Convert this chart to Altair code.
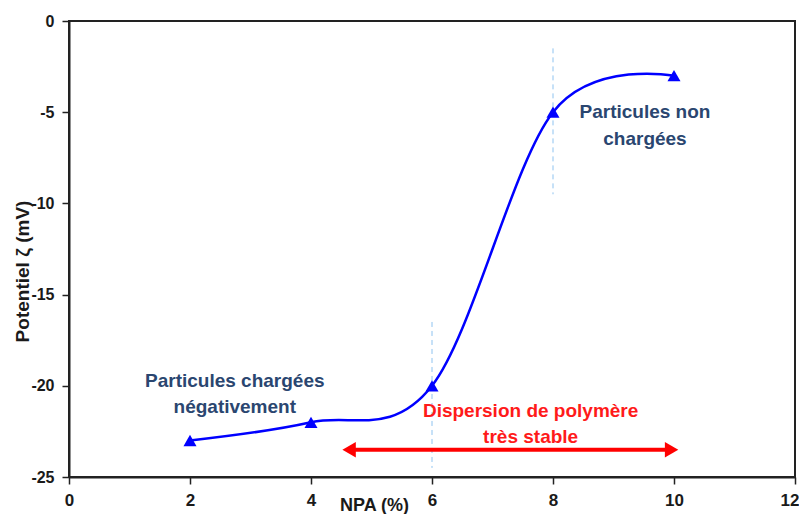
import altair as alt
import pandas as pd

# Data
npa = [2, 4, 6, 8, 10]
zeta = [-23, -22, -20, -5, -3]

guide_x = [6, 8]
guide_y1 = [-16.5, -1.5]
guide_y2 = [-24.5, -9.5]

arrow_x1 = [4.6]
arrow_x2 = [9.95]
arrow_y = [-23.5]
arrow_heads_x = [4.63, 9.96]
arrow_heads_shape = ["triangle-left", "triangle-right"]

blue_text = ["Particules chargées", "négativement", "Particules non", "chargées"]
blue_text_x = [2.74, 2.74, 9.52, 9.52]
blue_text_y = [-19.74, -21.16, -4.99, -6.47]

red_text = ["Dispersion de polymère", "très stable"]
red_text_x = [7.63, 7.63]
red_text_y = [-21.38, -22.81]

df = pd.DataFrame({"npa": npa, "zeta": zeta})
df_guides = pd.DataFrame({"x": guide_x, "y1": guide_y1, "y2": guide_y2})
df_arrow = pd.DataFrame({"x1": arrow_x1, "x2": arrow_x2, "y": arrow_y})
df_heads = pd.DataFrame({"x": arrow_heads_x, "y": arrow_y * 2, "shape": arrow_heads_shape})
df_blue = pd.DataFrame({"t": blue_text, "x": blue_text_x, "y": blue_text_y})
df_red = pd.DataFrame({"t": red_text, "x": red_text_x, "y": red_text_y})

FONT = "Liberation Sans"

xscale = alt.Scale(domain=[0, 12], nice=False)
yscale = alt.Scale(domain=[-25, 0], nice=False)

xaxis = alt.Axis(
    values=[0, 2, 4, 6, 8, 10, 12], title="NPA (%)", grid=False,
    labelExpr="'' + datum.value", labelFont=FONT, labelFontWeight="bold",
    labelFontSize=17, labelColor="#1a1a1a", tickSize=7, tickColor="#222",
    tickWidth=1.5, domainColor="#222", domainWidth=2, labelPadding=8,
    labelAlign={"condition": {"test": "datum.value == 12", "value": "right"}, "value": "center"},
    labelOffset={"condition": {"test": "datum.value == 12", "value": 4}, "value": 0},
    titleFont=FONT, titleFontWeight="bold", titleFontSize=18, titleColor="#1a1a1a",
    titleX=305, titleY=33, titleBaseline="alphabetic", titleAlign="center",
)
yaxis = alt.Axis(
    values=[-25, -20, -15, -10, -5, 0], title="Potentiel ζ (mV)", grid=False,
    labelExpr="'' + datum.value", labelFont=FONT, labelFontWeight="bold",
    labelFontSize=16, labelColor="#1a1a1a", tickSize=7, tickColor="#222",
    tickWidth=1.5, domainColor="#222", domainWidth=2, labelPadding=8,
    titleFont=FONT, titleFontWeight="bold", titleFontSize=19, titleColor="#1a1a1a",
    titleX=-47, titleY=250, titleAngle=270, titleAlign="center", titleBaseline="middle",
)

base_x = alt.X("npa:Q", scale=xscale, axis=xaxis)
base_y = alt.Y("zeta:Q", scale=yscale, axis=yaxis)

guides = alt.Chart(df_guides).mark_rule(color="#8EC3F0", strokeDash=[5, 4], strokeWidth=1).encode(
    x=alt.X("x:Q", scale=xscale), y=alt.Y("y1:Q", scale=yscale), y2="y2:Q"
)

line = alt.Chart(df).mark_line(color="#0000FF", strokeWidth=2.5, interpolate="cardinal", tension=0).encode(
    x=base_x, y=base_y
)
pts = alt.Chart(df).mark_point(shape="triangle-up", filled=True, color="#0000FF", size=170, opacity=1).encode(
    x="npa:Q", y="zeta:Q"
)

arrow = alt.Chart(df_arrow).mark_rule(color="#FF0000", strokeWidth=4).encode(
    x=alt.X("x1:Q", scale=xscale), x2="x2:Q", y=alt.Y("y:Q", scale=yscale)
)
heads = alt.Chart(df_heads).mark_point(filled=True, color="#FF0000", size=240, opacity=1).encode(
    x=alt.X("x:Q", scale=xscale), y=alt.Y("y:Q", scale=yscale),
    shape=alt.Shape("shape:N", scale=None)
)

btext = alt.Chart(df_blue).mark_text(font=FONT, fontSize=19, fontWeight="bold", color="#2A4670").encode(
    x=alt.X("x:Q", scale=xscale), y=alt.Y("y:Q", scale=yscale), text="t:N"
)
rtext = alt.Chart(df_red).mark_text(font=FONT, fontSize=19, fontWeight="bold", color="#FF1A1A").encode(
    x=alt.X("x:Q", scale=xscale), y=alt.Y("y:Q", scale=yscale), text="t:N"
)

chart = alt.layer(guides, arrow, heads, line, pts, btext, rtext).properties(
    width=726, height=456,
    padding={"left": 61, "top": 13, "right": 4, "bottom": 37},
    autosize="none",
).configure_view(stroke="#222", strokeWidth=2)

chart.save("out.html", embed_options={"renderer": "svg", "actions": False})
